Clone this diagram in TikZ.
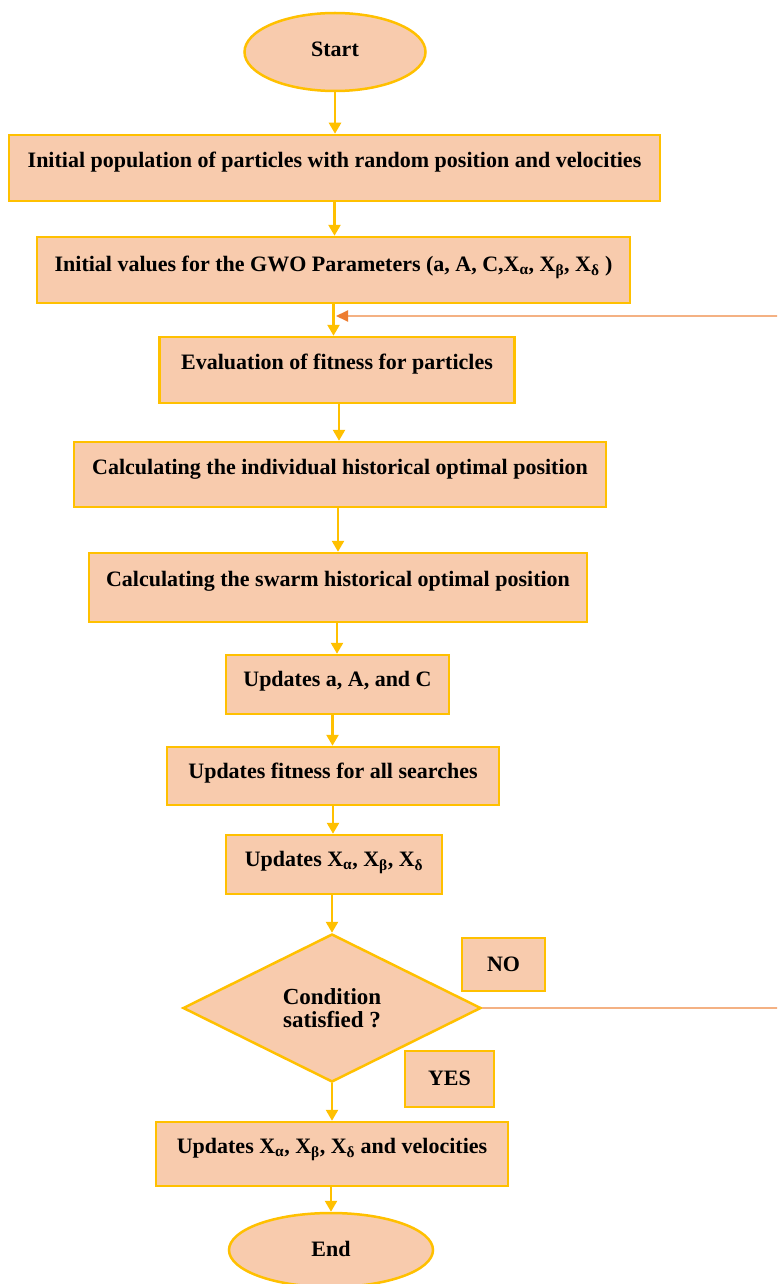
\documentclass[tikz,border=0pt]{standalone}
\usepackage{fontspec}
\setmainfont{Liberation Serif}
\usetikzlibrary{shapes.geometric,arrows.meta}
\definecolor{peach}{HTML}{F8CBAD}
\definecolor{gold}{HTML}{FFC000}
\definecolor{fbline}{HTML}{F4B183}
\definecolor{fbhead}{HTML}{ED7D31}
\begin{document}
\begin{tikzpicture}[x=1pt,y=-1pt,
  font=\fontsize{22}{25}\selectfont\bfseries,
  shp/.style={draw=gold, fill=peach, line width=2.5pt, inner sep=0pt},
  box/.style={shp, rectangle, text height=15pt, text depth=#1},
  box/.default=16pt,
  oval/.style={shp, ellipse, text height=15pt, text depth=#1},
  oval/.default=4pt,
  decision/.style={shp, diamond, align=center, font=\fontsize{23}{23}\selectfont\bfseries},
  arr/.style={draw=gold, line width=2.5pt, -{Triangle[width=12pt,length=11pt]}},
  fb/.style={draw=fbline, line width=2pt, -{Triangle[width=11pt,length=12pt,color=fbhead,fill=fbhead]}}
]
\useasboundingbox (0,0) rectangle (777,1284);
\fill[white] (0,0) rectangle (777,1284);
\begin{scope}
\clip (0,0) rectangle (777,1284);

\node[oval=6pt, minimum width=181pt, minimum height=78pt] (start) at (335,52) {Start};

\node[box=16pt, minimum width=651pt, minimum height=66pt] (b1) at (334.5,168)
  {Initial population of particles with random position and velocities};
\node[box=12pt, minimum width=593pt, minimum height=66pt] (b2) at (333.5,270)
  {Initial values for the GWO Parameters (a, A, C,X\textsubscript{α}, X\textsubscript{β}, X\textsubscript{δ} )};
\node[box=16pt, minimum width=355pt, minimum height=66pt] (b3) at (337,370)
  {Evaluation of fitness for particles};
\node[box=15pt, minimum width=532pt, minimum height=65pt] (b4) at (340,474.5)
  {Calculating the individual historical optimal position};
\node[box=17pt, minimum width=498pt, minimum height=69pt] (b5) at (338,587.5)
  {Calculating the swarm historical optimal position};
\node[box=11pt, minimum width=223pt, minimum height=59pt] (b6) at (337.5,684.5)
  {Updates a, A, and C};
\node[box=10pt, minimum width=332pt, minimum height=58pt] (b7) at (333,776)
  {Updates fitness for all searches};
\node[box=11pt, minimum width=216pt, minimum height=59pt] (b8) at (334,864.5)
  {Updates X\textsubscript{α}, X\textsubscript{β}, X\textsubscript{δ}};
\node[decision, minimum width=298pt, minimum height=148pt] (dia) at (332,1008)
  {Condition\\satisfied ?};
\node[box=2pt, minimum width=83pt, minimum height=53pt] (no) at (503.5,964.5) {NO};
\node[box=2pt, minimum width=89pt, minimum height=56pt] (yes) at (449.5,1079) {YES};
\node[box=16pt, minimum width=352pt, minimum height=64pt] (b9) at (332,1154)
  {Updates X\textsubscript{α}, X\textsubscript{β}, X\textsubscript{δ} and velocities};
\node[oval=2pt, minimum width=204pt, minimum height=74pt] (end) at (331,1250) {End};

\draw[arr] (start.south) -- (start.south |- b1.north);
\draw[arr] (b1.south) -- (b1.south |- b2.north);
\draw[arr] (b2.south) -- (b2.south |- b3.north);
\draw[arr] ([xshift=2pt]b3.south) -- ([xshift=2pt]b3.south |- b4.north);
\draw[arr] ([xshift=-2pt]b4.south) -- ([xshift=-2pt]b4.south |- b5.north);
\draw[arr] ([xshift=-1pt]b5.south) -- ([xshift=-1pt]b5.south |- b6.north);
\draw[arr] ([xshift=-5pt]b6.south) -- ([xshift=-5pt]b6.south |- b7.north);
\draw[arr] (b7.south) -- (b7.south |- b8.north);
\draw[arr] ([xshift=-2pt]b8.south) -- ([xshift=-2pt]b8.south |- dia.north);
\draw[arr] (dia.south) -- (dia.south |- b9.north);
\draw[arr] ([xshift=-1pt]b9.south) -- ([xshift=-1pt]b9.south |- end.north);

\coordinate (fbin) at (336,316);
\coordinate (fbcorner) at (800,316);
\draw[fb] (dia.east) -| (fbcorner) -- (fbin);
\end{scope}
\end{tikzpicture}
\end{document}
